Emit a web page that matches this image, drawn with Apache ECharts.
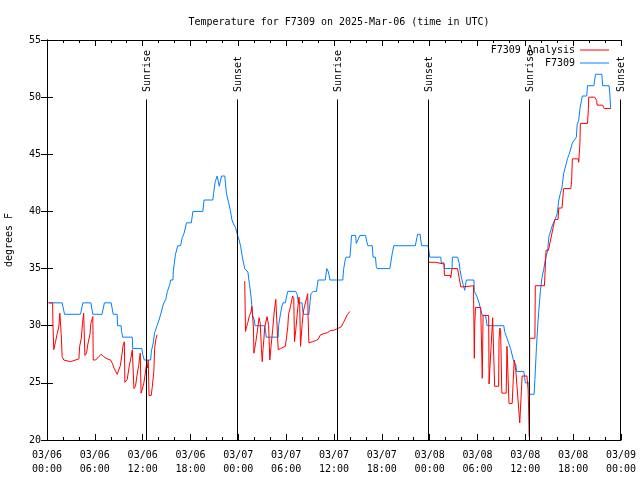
<!DOCTYPE html>
<html><head><meta charset="utf-8">
<script src="https://cdn.jsdelivr.net/npm/echarts@6/dist/echarts.min.js"></script>
<style>html,body{margin:0;padding:0;background:#fff}#c{width:640px;height:480px}</style>
</head><body><div id="c"></div>
<script>
// hours since 2025-03-06 00:00 UTC, temperature in F
const obsSeries = [[0.2,32],[1.9,32],[2.2,31],[4.2,31],[4.5,32],[5.5,32],[5.75,31],[6.9,31],[7.2,32],[8.05,32],[8.3,31],[8.8,31],[8.85,30],[9.3,30],[9.35,29.5],[9.5,29],[10.7,29],[10.75,28],[11.9,28],[12.0,27.5],[12.2,27],[13.0,27],[13.1,27.8],[13.3,28.4],[13.5,29.4],[13.8,30],[14.05,30.5],[14.3,31.1],[14.6,31.9],[14.9,32.3],[15.1,33],[15.4,33.6],[15.5,34],[15.8,34],[15.85,34.8],[16.05,34.8],[16.1,36.2],[16.35,36.2],[16.4,37],[16.75,37],[16.96,37.7],[17.2,38.1],[17.5,39],[18.1,39],[18.3,40],[19.55,40],[19.7,41],[20.8,41],[20.9,41.6],[21.1,42.6],[21.35,43.1],[21.5,43.1],[21.6,42.2],[21.8,42.2],[21.9,43.1],[22.3,43.1],[22.5,41.6],[22.7,41],[22.9,40.9],[23.0,40.1],[23.2,39.25],[23.4,38.9],[23.65,38.6],[23.9,37.9],[24.1,37.5],[24.3,36.9],[24.5,36.0],[24.8,35.0],[25.2,34.7],[25.4,33.6],[25.6,32.5],[25.7,31.7],[25.8,30.9],[26.0,30.5],[26.1,30],[27.3,30],[27.4,29.6],[27.5,29],[29.0,29],[29.05,30],[29.3,31.1],[29.5,31.8],[29.6,32],[29.9,32],[30.0,32.4],[30.2,33],[31.2,33],[31.4,32.7],[31.5,32],[32.0,32],[32.05,31.4],[32.2,31],[32.85,31],[33.0,32.1],[33.1,32.8],[33.4,33],[33.8,33],[34.0,34],[34.9,34],[35.1,35],[35.3,34.7],[35.5,34],[37.1,34],[37.2,34.9],[37.4,35.75],[37.5,36],[38.0,36],[38.1,36.9],[38.2,37.9],[38.7,37.9],[38.8,37.2],[39.0,37.2],[39.25,37.9],[39.96,37.9],[40.1,37.4],[40.25,37],[40.8,37],[40.9,36],[41.2,36],[41.3,35.2],[41.4,35],[43.0,35],[43.1,35.4],[43.3,36.3],[43.5,37],[46.2,37],[46.4,37.7],[46.5,38],[46.8,38],[46.9,37.4],[47.0,37],[47.8,37],[47.9,36.6],[48.0,36],[49.4,36],[49.45,35.5],[49.8,35.5],[49.85,35],[50.8,35],[50.85,36],[51.5,36],[51.7,35.5],[51.8,34.9],[52.0,34.15],[52.2,33.6],[52.4,33.1],[52.5,33.1],[52.6,34],[53.55,34],[53.6,33],[53.9,32.6],[54.2,32],[54.4,31.4],[54.6,30.9],[55.0,30.9],[55.1,30.5],[55.2,30],[57.3,30],[57.4,29.5],[57.65,29],[57.9,28.5],[58.15,28],[58.4,28],[58.5,27],[58.8,26.6],[58.9,26],[59.8,26],[59.9,25.6],[60.0,25],[60.45,25],[60.5,24],[61.1,24],[61.2,25.3],[61.4,28.2],[61.6,30.5],[61.7,31.4],[61.9,33.1],[62.1,34.25],[62.3,34.9],[62.5,35.75],[62.8,36.6],[62.96,37.8],[63.4,38.8],[63.8,39.4],[64.0,39.8],[64.2,41],[64.4,41.6],[64.6,42.1],[64.8,43.3],[65.1,44.1],[65.3,44.65],[65.5,45],[65.7,45],[65.9,46],[66.1,46.1],[66.4,46.5],[66.5,47.6],[66.7,48],[66.85,49],[67.15,50.1],[67.7,50.1],[67.8,51],[68.6,51],[68.8,52],[69.6,52],[69.7,51],[70.5,51],[70.6,50.3],[70.7,49]];

const analysisSeries = [[0.2,32],[0.7,32],[0.75,30],[0.85,27.9],[1.07,28.6],[1.28,29.3],[1.48,29.9],[1.61,31.1],[1.78,29.3],[1.9,27.3],[2.1,27.0],[2.95,26.85],[3.16,27.0],[4.0,27.1],[4.1,28.2],[4.3,28.9],[4.45,30.2],[4.6,31.1],[4.75,27.4],[4.96,27.6],[5.1,28.3],[5.4,29.3],[5.5,30.2],[5.75,30.8],[5.8,27.0],[6.1,27.0],[6.5,27.3],[6.8,27.5],[7.1,27.3],[7.55,27.1],[7.97,27.0],[8.2,26.7],[8.4,26.3],[8.8,25.75],[9.0,25.8],[9.2,26.5],[9.4,27.5],[9.55,28.3],[9.7,28.6],[9.77,25.05],[10.06,25.3],[10.3,26.4],[10.5,27.1],[10.7,27.9],[10.8,27.9],[10.9,24.5],[11.1,24.7],[11.3,25.7],[11.5,26.5],[11.65,27.4],[11.7,27.6],[11.8,24.1],[11.9,24.3],[12.15,25.0],[12.3,25.7],[12.5,26.7],[12.6,26.3],[12.7,27.0],[12.8,23.9],[13.07,23.9],[13.2,24.6],[13.4,26.0],[13.5,28.0],[13.65,28.8],[13.8,29.2],
[14.0,null],
[24.8,33.9],[24.85,31.7],[24.9,29.5],[25.03,29.9],[25.2,30.3],[25.4,30.9],[25.6,31.2],[25.7,31.7],[25.9,29.8],[25.95,27.6],[26.1,27.5],[26.2,28.6],[26.4,29.6],[26.6,30.7],[26.75,30.2],[26.9,27.9],[27.0,26.85],[27.1,28.0],[27.2,28.8],[27.3,29.8],[27.6,30.8],[27.8,30.0],[27.95,27.0],[28.1,28.2],[28.3,29.6],[28.5,31.2],[28.7,32.3],[28.8,32.2],[29.0,27.9],[29.3,28.0],[29.9,28.2],[30.05,29.0],[30.2,29.9],[30.3,31.0],[30.55,31.7],[30.8,32.6],[30.95,32.4],[31.05,28.6],[31.2,29.6],[31.4,31.1],[31.6,32.5],[31.7,31.8],[31.8,28.2],[31.9,28.2],[32.0,30.1],[32.15,31.2],[32.3,31.7],[32.6,32.5],[32.7,32.8],[32.75,30.8],[32.85,28.5],[33.3,28.6],[33.7,28.7],[34.0,28.8],[34.3,29.2],[34.7,29.3],[35.2,29.4],[35.6,29.6],[36.0,29.6],[36.3,29.7],[36.9,29.9],[37.2,30.3],[37.7,31.0],[38.0,31.25],
[38.2,null],
[47.8,35.55],[48.7,35.55],[48.75,35.4],[49.8,35.4],[49.85,34.4],[50.6,34.4],[50.65,34.2],[50.8,35],[51.5,35],[51.7,34.2],[51.9,33.4],[52.3,33.4],[52.5,33.5],[53.5,33.5],[53.6,27.15],[53.65,30],[53.75,31.6],[54.4,31.6],[54.6,25.4],[54.7,30.9],[55.4,30.9],[55.45,24.9],[55.7,24.9],[55.9,30.7],[56.1,30.7],[56.15,24.7],[56.65,24.7],[56.7,28.75],[56.8,29.8],[56.9,29.6],[57.05,24.1],[57.6,24.1],[57.7,28.2],[57.8,28.2],[57.95,23.2],[58.35,23.2],[58.6,27.0],[58.8,26.1],[59.3,21.5],[59.55,21.5],[59.6,25.6],[60.2,25.6],[60.35,24.4],[60.5,20.3],[60.55,28.9],[61.2,28.9],[61.25,33.5],[62.4,33.5],[62.6,36.6],[62.9,36.6],[63.7,39.3],[64.1,39.3],[64.2,40.3],[64.6,40.3],[64.8,42],[65.7,42],[65.8,42.6],[65.9,44.6],[66.65,44.6],[66.7,44.3],[66.85,46],[66.9,47.7],[67.8,47.7],[67.9,48.9],[67.95,50],[68.7,50],[68.95,49.7],[69.0,49.3],[69.7,49.3],[69.9,49],[70.7,49]];

const sunTimes = [12.4, 23.8, 36.4, 47.8, 60.45, 71.9];
const sunLabels = ['Sunrise','Sunset','Sunrise','Sunset','Sunrise','Sunset'];
const dayLabels = ['03/06','03/07','03/08','03/09'];
const yTicks = [20,25,30,35,40,45,50,55];

const FONT = 'DejaVu Sans Mono';
function xLabel(v){
  const d = Math.floor(v/24), h = v % 24;
  return dayLabels[d] + '\n' + (h<10?'0':'') + h + ':00';
}
const chart = echarts.init(document.getElementById('c'), null, {renderer:'canvas'});
const baseX = {type:'value', min:0, max:72, interval:6,
  axisLine:{show:true, lineStyle:{color:'#000', width:1}},
  axisTick:{show:true, inside:true, length:6, lineStyle:{color:'#000'}},
  minorTick:{show:true, splitNumber:3, length:3, lineStyle:{color:'#000'}},
  splitLine:{show:false}};
const baseY = {type:'value', min:20, max:55, interval:5,
  axisLine:{show:true, lineStyle:{color:'#000', width:1}},
  axisTick:{show:true, inside:true, length:6, lineStyle:{color:'#000'}},
  splitLine:{show:false}};
chart.setOption({
  animation:false,
  backgroundColor:'#fff',
  title:{text:'Temperature for F7309 on 2025-Mar-06 (time in UTC)', left:334, top:12, textAlign:'center',
    textStyle:{fontFamily:FONT, fontSize:10, fontWeight:'normal', color:'#000'}},
  legend:{orient:'vertical', right:26, top:39, align:'right', icon:'rect', itemWidth:29, itemHeight:1, itemGap:1,
    data:['F7309 Analysis','F7309'],
    textStyle:{fontFamily:FONT, fontSize:10, color:'#000', padding:0, lineHeight:12}},
  grid:{left:47, right:19, top:40, bottom:40, show:false, outerBoundsMode:'none', containLabel:false},
  xAxis:[Object.assign({}, baseX, {position:'bottom',
      axisLabel:{show:true, formatter:xLabel, fontFamily:FONT, fontSize:10, color:'#000', margin:8, lineHeight:14}}),
    Object.assign({}, baseX, {position:'top', axisLabel:{show:false}})],
  yAxis:[Object.assign({}, baseY, {position:'left', name:'degrees F', nameLocation:'middle', nameGap:33, nameRotate:90,
      nameTextStyle:{fontFamily:FONT, fontSize:10, color:'#000'},
      axisLabel:{show:true, fontFamily:FONT, fontSize:10, color:'#000', margin:6,
        formatter:function(v){return yTicks.indexOf(v)>=0 ? String(v) : '';}}}),
    Object.assign({}, baseY, {position:'right', axisLabel:{show:false}})],
  series:[
    {name:'F7309 Analysis', type:'line', data:analysisSeries, showSymbol:false, symbol:'none', connectNulls:false,
      lineStyle:{color:'#ff0000', width:1}, itemStyle:{color:'#ff0000'}, z:3},
    {name:'F7309', type:'line', data:obsSeries, showSymbol:false, symbol:'none',
      lineStyle:{color:'#0080ff', width:1}, itemStyle:{color:'#0080ff'}, z:2},
    {name:'sun', type:'custom', silent:true, z:4,
      data:sunTimes.map(function(t){return [t];}),
      encode:{x:0},
      renderItem:function(params, api){
        const t = api.value(0);
        const p0 = api.coord([t,20]), p1 = api.coord([t,49.8]), pt = api.coord([t,50.45]);
        const x = Math.round(p0[0]) + 0.5;
        return {type:'group', children:[
          {type:'line', shape:{x1:x, y1:p0[1], x2:x, y2:p1[1]}, style:{stroke:'#000', lineWidth:1}},
          {type:'text', x:x+1, y:pt[1], rotation:Math.PI/2,
            style:{text:sunLabels[params.dataIndex], fill:'#000', font:'10px "DejaVu Sans Mono"', align:'left', verticalAlign:'middle'}}
        ]};
      }}
  ]
});
</script></body></html>
